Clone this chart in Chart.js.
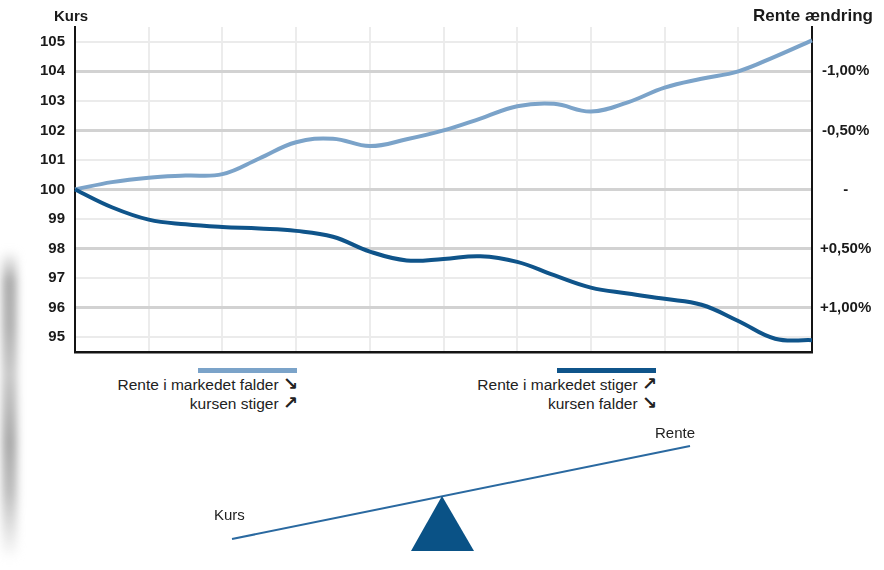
<!DOCTYPE html>
<html>
<head>
<meta charset="utf-8">
<script src="https://cdn.jsdelivr.net/npm/chart.js@4.4.1/dist/chart.umd.min.js"></script>
<style>
  body {
    margin: 0;
    width: 884px;
    height: 570px;
    background: #fff;
    position: relative;
    overflow: hidden;
    font-family: 'Liberation Sans', Arial, sans-serif;
    color: #1a1a1a;
  }
  #chartBox { position: absolute; left: 0; top: 0; width: 884px; height: 362px; }
  .title { position: absolute; font-weight: bold; font-size: 15px; line-height: 18px; }
  .bar { position: absolute; height: 5px; }
  .legendText { position: absolute; text-align: right; font-size: 15.5px; line-height: 19px; color: #222; }
  .arrow { font-family: 'DejaVu Sans', sans-serif; font-weight: bold; font-size: 18px; line-height: 15px; }
  .seesawText { position: absolute; font-size: 15px; line-height: 18px; color: #222; }
  #shadow {
    position: absolute; left: 2px; top: 250px; width: 15px; height: 310px;
    background: linear-gradient(to bottom, rgba(170,170,170,0) 0%, #ababab 10%, #b0b0b0 25%,
      #c8c8c8 40%, #a8a8a8 62%, #bdbdbd 78%, rgba(215,215,215,0.6) 92%, rgba(235,235,235,0) 100%);
    filter: blur(4px);
  }
</style>
</head>
<body>

<div id="shadow"></div>

<div id="chartBox"><canvas id="kursChart" width="884" height="362"></canvas></div>

<div class="title" style="left:54px; top:7px;">Kurs</div>
<div class="title" style="left:753px; top:6px; font-size:17px; line-height:20px;">Rente ændring</div>

<div class="bar" style="left:198px; top:368px; width:99px; background:#7ba3c9;"></div>
<div class="legendText" style="left:0; width:298px; top:375px;">
  Rente i markedet falder <span class="arrow">&#8600;</span><br>kursen stiger <span class="arrow">&#8599;</span>
</div>

<div class="bar" style="left:557px; top:368px; width:99px; background:#0f548a;"></div>
<div class="legendText" style="left:0; width:657px; top:375px;">
  Rente i markedet stiger <span class="arrow">&#8599;</span><br>kursen falder <span class="arrow">&#8600;</span>
</div>

<svg width="884" height="570" style="position:absolute; left:0; top:0;">
  <line x1="232" y1="539" x2="690" y2="446" stroke="#2a69a0" stroke-width="2"></line>
  <polygon points="442,496 411,551 474,551" fill="#0a5286"></polygon>
</svg>
<div class="seesawText" style="left:214px; top:506px;">Kurs</div>
<div class="seesawText" style="left:655px; top:424px;">Rente</div>

<script>
// half-period steps along the x axis (no labels shown in the chart)
const periods = ['0', '0.5', '1', '1.5', '2', '2.5', '3', '3.5', '4', '4.5', '5',
                 '5.5', '6', '6.5', '7', '7.5', '8', '8.5', '9', '9.5', '10'];

// kurs when the market rate falls
const kursRenteFalder = [100.0, 100.25, 100.4, 100.47, 100.52, 101.05, 101.6, 101.72, 101.47, 101.7, 102.0,
                         102.4, 102.82, 102.9, 102.64, 102.95, 103.45, 103.75, 104.0, 104.5, 105.05];

// kurs when the market rate rises
const kursRenteStiger = [100.0, 99.4, 98.98, 98.82, 98.73, 98.68, 98.6, 98.4, 97.9, 97.6, 97.65,
                         97.74, 97.55, 97.1, 96.68, 96.48, 96.3, 96.1, 95.55, 94.95, 94.9];

// left axis gridlines (labels only on whole numbers)
const kursGrid = [95, 95.5, 96, 96.5, 97, 97.5, 98, 98.5, 99, 99.5, 100,
                  100.5, 101, 101.5, 102, 102.5, 103, 103.5, 104, 104.5, 105];

// right axis: rate change
const renteTicks = [104, 102, 100, 98, 96];
const renteLabels = ['-1,00%', '-0,50%', '-', '+0,50%', '+1,00%'];

const lightBlue = '#7ba3c9';
const darkBlue = '#0f548a';

Chart.defaults.font.family = "'Liberation Sans', Arial, sans-serif";

// fixed axis widths, and no extra room reserved for the end labels
function fixWidth(w) {
    return (scale) => {
        scale.width = w;
        scale.paddingTop = 0;
        scale.paddingBottom = 0;
    };
}

const ctx = document.getElementById('kursChart').getContext('2d');
new Chart(ctx, {
    type: 'line',
    data: {
        labels: periods,
        datasets: [
            {
                data: kursRenteStiger,
                borderColor: darkBlue,
                borderWidth: 4,
                pointRadius: 0,
                tension: 0.4,
                yAxisID: 'y'
            },
            {
                data: kursRenteFalder,
                borderColor: lightBlue,
                borderWidth: 4,
                pointRadius: 0,
                tension: 0.4,
                yAxisID: 'y'
            }
        ]
    },
    options: {
        responsive: false,
        animation: false,
        layout: { padding: { top: 27, bottom: 10, left: 0, right: 0 } },
        plugins: {
            legend: { display: false },
            tooltip: { enabled: false }
        },
        scales: {
            x: {
                afterFit: (scale) => { scale.height = 0; },
                ticks: { display: false },
                grid: {
                    drawTicks: false,
                    lineWidth: 2,
                    color: (c) => (c.index % 2 === 0 ? '#ececec' : 'rgba(0,0,0,0)')
                },
                border: { display: true, color: '#141414', width: 2.5 }
            },
            y: {
                position: 'left',
                min: 94.5,
                max: 105.5,
                afterBuildTicks: (scale) => { scale.ticks = kursGrid.map(v => ({ value: v })); },
                afterFit: fixWidth(75),
                ticks: {
                    padding: 10,
                    color: '#1a1a1a',
                    font: { size: 15, weight: 'bold' },
                    callback: (v) => (Number.isInteger(v) ? String(v) : '')
                },
                grid: {
                    drawTicks: false,
                    color: (c) => (c.tick.value % 2 === 0 ? '#d2d2d2' : '#ebebeb'),
                    lineWidth: (c) => (c.tick.value % 2 === 0 ? 3 : 2)
                },
                border: { display: true, color: '#141414', width: 2 }
            },
            y1: {
                position: 'right',
                min: 94.5,
                max: 105.5,
                afterBuildTicks: (scale) => { scale.ticks = renteTicks.map(v => ({ value: v })); },
                afterFit: fixWidth(72),
                ticks: {
                    padding: 8,
                    crossAlign: 'center',
                    color: '#1a1a1a',
                    font: { size: 15, weight: 'bold' },
                    callback: (v) => renteLabels[renteTicks.indexOf(v)]
                },
                grid: { display: false, drawTicks: false },
                border: { display: true, color: '#141414', width: 2 }
            }
        }
    }
});
</script>
</body>
</html>
